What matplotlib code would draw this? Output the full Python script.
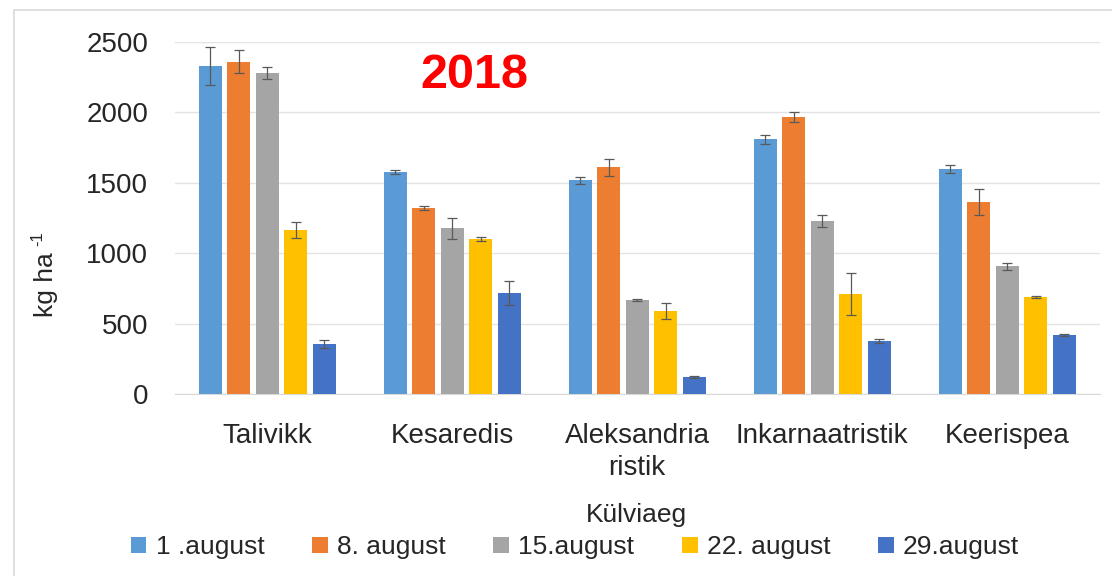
import matplotlib.pyplot as plt
import numpy as np
from matplotlib.patches import Rectangle

plt.rcParams['font.family'] = ['Liberation Sans', 'DejaVu Sans']

categories = ["Talivikk", "Kesaredis", "Aleksandria\nristik", "Inkarnaatristik", "Keerispea"]
series_names = ["1 .august", "8. august", "15.august", "22. august", "29.august"]
colors = ["#5b9bd5", "#ed7d31", "#a5a5a5", "#ffc000", "#4472c4"]

aug01 = [2330, 1576, 1519, 1808, 1597]
aug08 = [2360, 1320, 1610, 1967, 1363]
aug15 = [2280, 1178, 665, 1228, 909]
aug22 = [1165, 1100, 589, 708, 689]
aug29 = [355, 717, 121, 376, 419]

err01 = [135, 12, 25, 30, 30]
err08 = [80, 12, 60, 35, 90]
err15 = [40, 75, 8, 40, 25]
err22 = [60, 15, 55, 150, 10]
err29 = [25, 85, 8, 15, 10]

values = [aug01, aug08, aug15, aug22, aug29]
errors = [err01, err08, err15, err22, err29]

fig = plt.figure(figsize=(11.12, 5.76), dpi=100)
ax = fig.add_axes([0.157, 0.316, 0.832, 0.611])

# outer frame like the exported chart
fig.patches.append(Rectangle((0.013, -0.01), 1.0, 0.993, transform=fig.transFigure,
                             fill=False, ec="#d9d9d9", lw=1.2))

x = np.arange(len(categories))
w = 0.125
step = 0.154
for i, (vals, errs) in enumerate(zip(values, errors)):
    pos = x + (i - 2) * step
    ax.bar(pos, vals, width=w, color=colors[i], label=series_names[i], zorder=3)
    ax.errorbar(pos, vals, yerr=errs, fmt="none", ecolor="#595959", elinewidth=0.9,
                capsize=3.5, capthick=0.9, zorder=4)

ax.set_xlim(-0.5, len(categories) - 0.5)
ax.set_ylim(0, 2500)
ax.set_yticks(range(0, 2501, 500))
ax.set_xticks(x)
ax.set_xticklabels(categories, fontsize=20, color="#262626", linespacing=1.3)
ax.tick_params(axis="y", labelsize=20, colors="#262626", length=0, pad=19)
ax.tick_params(axis="x", length=0, pad=21)
ax.grid(axis="y", color="#e3e3e3", lw=1, zorder=0)
for s in ["top", "right", "left"]:
    ax.spines[s].set_visible(False)
ax.spines["bottom"].set_color("#d9d9d9")

# y label: "kg ha" with a small "-1" exponent
fig.text(0.041, 0.505, "kg ha", rotation=90, fontsize=19, color="#262626",
         ha="center", va="center")
fig.text(0.034, 0.585, "-1", rotation=90, fontsize=12, color="#262626",
         ha="center", va="center")

ax.text(0.324, 0.905, "2018", transform=ax.transAxes, fontsize=35, color="#ff0000",
        fontweight="bold", ha="center", va="center")

fig.text(0.572, 0.106, "Külviaeg", fontsize=19, color="#262626", ha="center", va="center")
fig.legend(loc="center", bbox_to_anchor=(0.517, 0.05), ncol=5, frameon=False,
           fontsize=19, handlelength=0.6, handleheight=0.6, handletextpad=0.35,
           columnspacing=1.8, labelcolor="#262626")

fig.savefig("out.png", dpi=100)
